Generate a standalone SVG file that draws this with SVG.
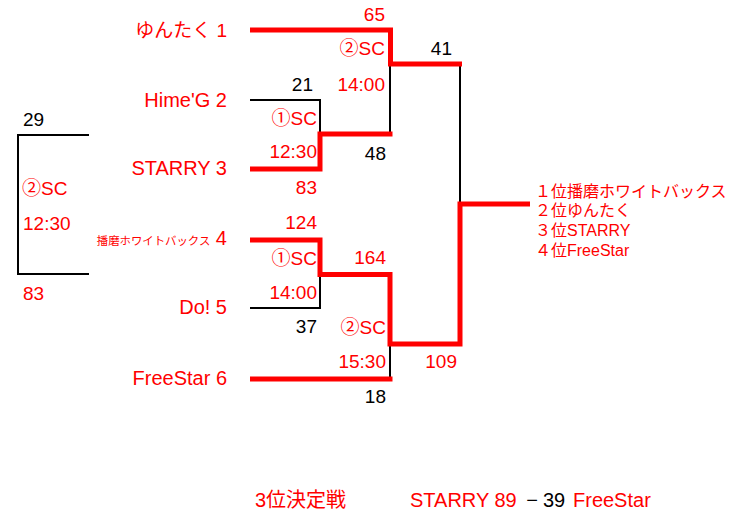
<svg xmlns="http://www.w3.org/2000/svg" width="746" height="514" viewBox="0 0 746 514">
<style>
  text { font-family: "Liberation Sans", "Noto Sans CJK JP", sans-serif; }
  .name { font-size: 20px; fill: #ff0000; text-anchor: end; }
  .lab { font-size: 19px; }
  .r { fill: #ff0000; }
  .k { fill: #000000; }
  .e { text-anchor: end; }
  .red { fill: none; stroke: #ff0000; stroke-width: 5; stroke-linejoin: miter; }
  .blk { fill: none; stroke: #000000; stroke-width: 2; }
  .res { font-size: 16px; fill: #ff0000; }
</style>
<rect width="746" height="514" fill="#ffffff"/>
<g id="connectors">
  <path class="blk" d="M250,100 H320 V134"/>
  <path class="blk" d="M390,64 V134"/>
  <path class="blk" d="M460,64 V205"/>
  <path class="blk" d="M250,308 H320 V274"/>
  <path class="blk" d="M390,344 V379"/>
  <path class="red" d="M250,30 H390.5 V64 H462"/>
  <path class="red" d="M250,169 H320 V134 H392.5"/>
  <path class="red" d="M250,240 H320 V274.5 H390 V344 H460 V204 H530"/>
  <path class="red" d="M250,379 H392.5"/>
</g>
<g id="team1"><text class="name" x="227" y="37" style="font-size:19px">ゆんたく 1</text></g>
<g id="team2"><text class="name" x="227" y="107">Hime'G 2</text></g>
<g id="team3"><text class="name" x="227" y="175">STARRY 3</text></g>
<g id="team4"><text class="name" x="227" y="245"><tspan style="font-size:11.4px">播磨ホワイトバックス</tspan> 4</text></g>
<g id="team5"><text class="name" x="227" y="314">Do! 5</text></g>
<g id="team6"><text class="name" x="227" y="385">FreeStar 6</text></g>
<g id="labels" class="lab">
  <text class="r e" x="385" y="21">65</text>
  <text class="r e" x="385" y="55">②SC</text>
  <text class="k e" x="452" y="55">41</text>
  <text class="k e" x="313" y="91">21</text>
  <text class="r e" x="385" y="91">14:00</text>
  <text class="r e" x="317" y="125">①SC</text>
  <text class="r e" x="317" y="158">12:30</text>
  <text class="k e" x="386" y="160">48</text>
  <text class="r e" x="317" y="194">83</text>
  <text class="r e" x="317" y="229">124</text>
  <text class="r e" x="317" y="265">①SC</text>
  <text class="r e" x="386" y="264">164</text>
  <text class="r e" x="317" y="299">14:00</text>
  <text class="k e" x="317" y="333">37</text>
  <text class="r e" x="386" y="334">②SC</text>
  <text class="r e" x="386" y="368">15:30</text>
  <text class="r e" x="457" y="368">109</text>
  <text class="k e" x="386" y="403">18</text>
</g>
<g id="extra-match">
  <path class="blk" d="M89,135 H18 V274 H89"/>
  <g class="lab">
    <text class="k" x="23" y="126">29</text>
    <text class="r" x="22" y="195">②SC</text>
    <text class="r" x="23" y="230">12:30</text>
    <text class="r" x="23" y="300">83</text>
  </g>
</g>
<g id="results" class="res">
  <text x="535" y="197">１位播磨ホワイトバックス</text>
  <text x="535" y="216">２位ゆんたく</text>
  <text x="535" y="236">３位STARRY</text>
  <text x="535" y="256">４位FreeStar</text>
</g>
<g id="third-place" style="font-size:20px">
  <text class="r" x="255" y="507">3位決定戦</text>
  <text class="r" x="410" y="507">STARRY 89</text>
  <text class="k" x="532" y="507" style="text-anchor:middle">−</text>
  <text class="k" x="543" y="507">39</text>
  <text class="r" x="573" y="507">FreeStar</text>
</g>
</svg>
